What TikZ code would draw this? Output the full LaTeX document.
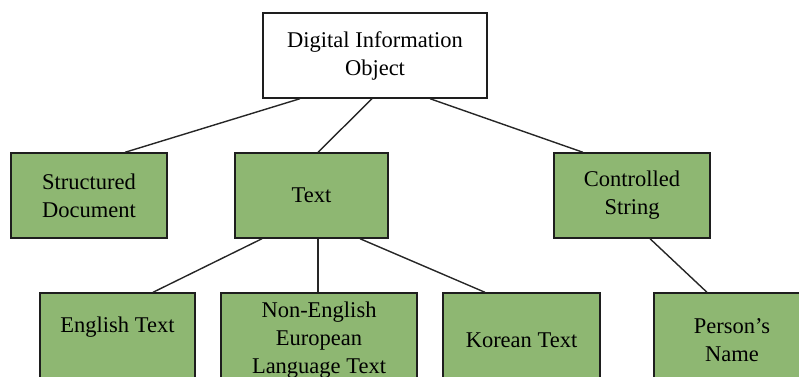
\documentclass[tikz,border=0pt]{standalone}
\usepackage{fontspec}
\setmainfont{Liberation Serif}
\usetikzlibrary{positioning}
\definecolor{boxgreen}{RGB}{142,183,114}
\definecolor{boxline}{RGB}{30,30,30}
\begin{document}
\begin{tikzpicture}
	[x=1pt,y=-1pt,
	 topbox/.style={rectangle,draw=boxline,line width=1.4pt,fill=white,align=center,
	   minimum width=224pt,minimum height=85pt,font=\fontsize{22.5}{28}\selectfont},
	 catbox/.style={topbox,fill=boxgreen,minimum width=156pt},
	 link/.style={draw=black!85,line width=1.4pt}]
	\clip (0,0) rectangle (799,376);
	\node[topbox] (dio)  at (375,55.5) {Digital Information\\Object};
	\node[catbox] (sdoc) at (89,195.5) {Structured\\Document};
	\node[catbox,minimum width=153pt] (text) at (311.5,195.5) {Text};
	\node[catbox] (cstr) at (632,195.5) {Controlled\\String};
	\node[catbox,minimum width=155pt,minimum height=94pt,text depth=30pt] (eng) at (117.5,340) {English Text};
	\node[catbox,minimum width=196pt,minimum height=94pt] (noneng) at (319,340) {Non-English\\European\\Language Text};
	\node[catbox,minimum width=157pt,minimum height=94pt] (kor) at (521.5,340) {Korean Text};
	\node[catbox,minimum height=94pt] (pers) at (732,340) {Person’s\\Name};
	\draw [link] ([xshift=-75pt]dio.south) -- ([xshift=36pt]sdoc.north);
	\draw [link] ([xshift=-3pt]dio.south) -- ([xshift=6.5pt]text.north);
	\draw [link] ([xshift=55pt]dio.south) -- ([xshift=-49pt]cstr.north);
	\draw [link] ([xshift=-49.5pt]text.south) -- ([xshift=35.5pt]eng.north);
	\draw [link] ([xshift=6.5pt]text.south) -- ([xshift=-1pt]noneng.north);
	\draw [link] ([xshift=48.5pt]text.south) -- ([xshift=-36.5pt]kor.north);
	\draw [link] ([xshift=18pt]cstr.south) -- ([xshift=-25pt]pers.north);
\end{tikzpicture}
\end{document}
